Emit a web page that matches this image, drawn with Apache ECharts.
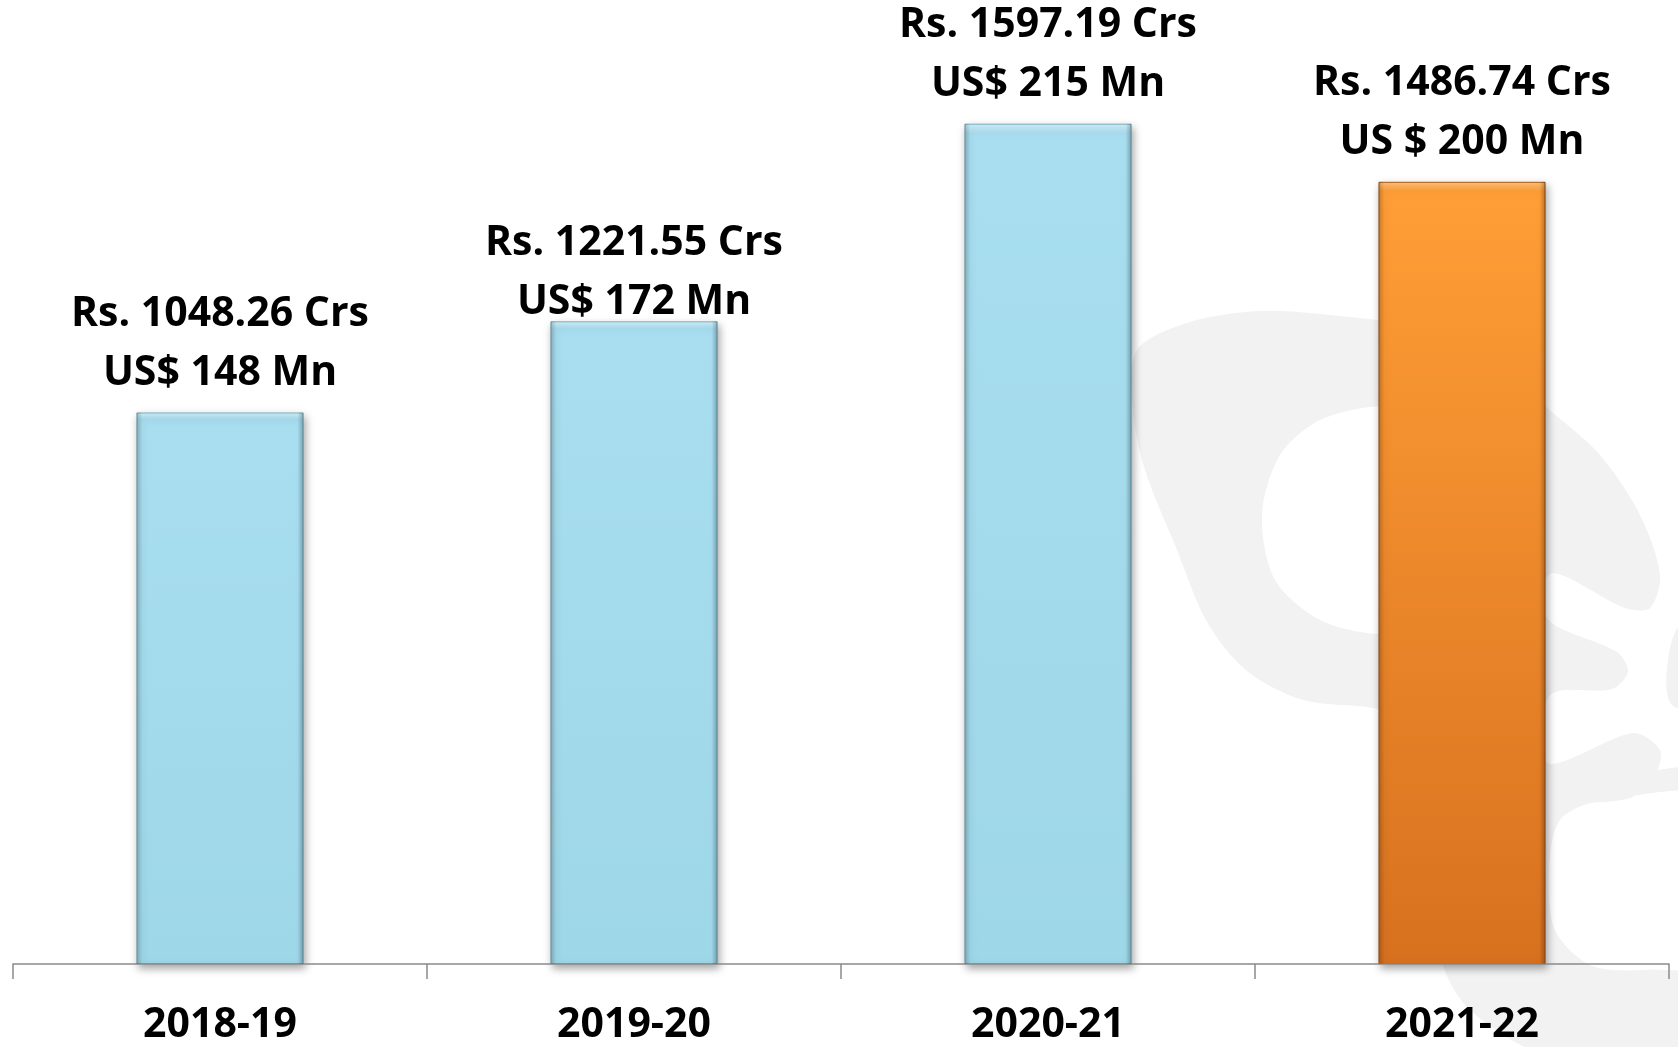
<!DOCTYPE html>
<html>
<head>
<meta charset="utf-8">
<style>
  html, body { margin: 0; padding: 0; background: #ffffff; }
  #chart { width: 1678px; height: 1047px; }
</style>
<script src="https://cdn.jsdelivr.net/npm/echarts@6/dist/echarts.min.js"></script>
</head>
<body>
<div id="chart"></div>
<script>
// exports by year
const categories = ["2018-19", "2019-20", "2020-21", "2021-22"];
const valuesRs = [1048.26, 1221.55, 1597.19, 1486.74];
const rsLabels = ["Rs. 1048.26 Crs", "Rs. 1221.55 Crs", "Rs. 1597.19 Crs", "Rs. 1486.74 Crs"];
const usdLabels = ["US$ 148 Mn", "US$ 172 Mn", "US$ 215 Mn", "US $ 200 Mn"];
const highlightIndex = 3;

const FONT = "'Open Sans', 'Noto Sans', sans-serif";
const WATERMARK = "#f2f2f2";

function grad(x2, y2, stops) {
  return { type: "linear", x: 0, y: 0, x2: x2, y2: y2, colorStops: stops };
}

const blueFill = grad(0, 1, [
  { offset: 0, color: "#d2f2fa" },
  { offset: 0.012, color: "#a8def0" },
  { offset: 1, color: "#9ed7e8" },
]);
const orangeFill = grad(0, 1, [
  { offset: 0, color: "#ffc47a" },
  { offset: 0.012, color: "#ff9e36" },
  { offset: 1, color: "#d8711f" },
]);
const edgeShade = grad(1, 0, [
  { offset: 0, color: "rgba(0,0,0,0.2)" },
  { offset: 0.035, color: "rgba(0,0,0,0)" },
  { offset: 0.965, color: "rgba(0,0,0,0)" },
  { offset: 1, color: "rgba(0,0,0,0.25)" },
]);

const barData = valuesRs.map((v, i) => {
  const orange = i === highlightIndex;
  const item = {
    value: v,
    itemStyle: {
      color: orange ? orangeFill : blueFill,
      borderColor: orange ? "#a9591a" : "#77afc0",
    },
  };
  // the 2019-20 label sits lower, touching the bar
  if (i === 1) item.label = { distance: -10 };
  return item;
});

// faint logo shape behind the plot (decoration only)
function blob(points, fill) {
  return { type: "polygon", shape: { points: points, smooth: 0.3 }, style: { fill: fill }, silent: true };
}
const watermark = [
  blob([[1720, 778], [1600, 782], [1520, 815], [1465, 880], [1440, 950], [1470, 1010], [1560, 1060], [1720, 1060]], WATERMARK),
  blob([[1720, 800], [1600, 801], [1560, 820], [1549, 870], [1555, 930], [1590, 965], [1640, 970], [1720, 958]], "#ffffff"),
  blob([
    [1137, 350], [1190, 322], [1260, 311], [1330, 315], [1420, 328], [1490, 360], [1552, 412],
    [1600, 455], [1640, 515], [1660, 575], [1650, 608], [1625, 608], [1553, 573], [1540, 600],
    [1553, 624], [1617, 652], [1628, 672], [1612, 689], [1553, 693], [1540, 730], [1550, 764],
    [1633, 733], [1660, 750], [1655, 775], [1630, 798], [1567, 805], [1550, 814], [1480, 780],
    [1430, 725], [1373, 708], [1303, 700], [1247, 671], [1207, 622], [1175, 545], [1145, 470], [1133, 410],
  ], WATERMARK),
  blob([[1380, 406], [1320, 420], [1280, 455], [1262, 515], [1275, 580], [1320, 620], [1378, 634], [1470, 630], [1470, 410]], "#ffffff"),
  blob([[1720, 622], [1680, 625], [1667, 668], [1672, 705], [1720, 714]], WATERMARK),
];

const chart = echarts.init(document.getElementById("chart"));

chart.setOption({
  backgroundColor: "#ffffff",
  animation: false,
  graphic: { elements: watermark },
  grid: { left: 13, right: 9, top: 17, bottom: 83, containLabel: false },
  xAxis: {
    type: "category",
    data: categories,
    boundaryGap: true,
    z: 3,
    axisLine: { show: true, lineStyle: { color: "#8a8a8a", width: 1.5 } },
    axisTick: { show: true, alignWithLabel: false, interval: 0, length: 15, lineStyle: { color: "#8a8a8a", width: 1.5 } },
    axisLabel: {
      margin: 39,
      color: "#000000",
      fontFamily: FONT,
      fontWeight: "bold",
      fontSize: 41,
      lineHeight: 44,
    },
  },
  yAxis: {
    type: "value",
    min: 0,
    max: 1800,
    show: false,
  },
  series: [
    {
      type: "bar",
      data: barData,
      barWidth: 167,
      z: 2,
      itemStyle: {
        borderWidth: 1,
        shadowColor: "rgba(0,0,0,0.35)",
        shadowBlur: 8,
        shadowOffsetX: 2,
        shadowOffsetY: 4,
      },
      label: {
        show: true,
        position: "top",
        distance: 10,
        color: "#000000",
        fontFamily: FONT,
        fontWeight: "bold",
        fontSize: 41,
        lineHeight: 59,
        formatter: (p) => rsLabels[p.dataIndex] + "\n" + usdLabels[p.dataIndex],
      },
    },
    {
      // side shading for the bevelled look
      type: "bar",
      data: valuesRs,
      barWidth: 167,
      barGap: "-100%",
      silent: true,
      z: 3,
      itemStyle: { color: edgeShade },
      label: { show: false },
    },
  ],
});
</script>
</body>
</html>
